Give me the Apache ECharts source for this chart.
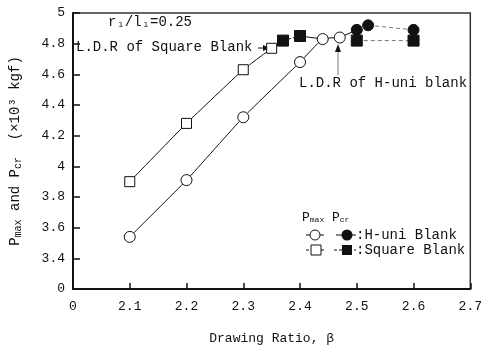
<!DOCTYPE html>
<html><head><meta charset="utf-8">
<script src="https://cdn.jsdelivr.net/npm/echarts@6/dist/echarts.min.js"></script>
<style>html,body{margin:0;padding:0;background:#fff}#c{width:485px;height:350px}</style>
</head><body><div id="c"></div>
<script>
// Data
var xTicks = [2.0, 2.1, 2.2, 2.3, 2.4, 2.5, 2.6, 2.7];
var yTicks = [3.2, 3.4, 3.6, 3.8, 4.0, 4.2, 4.4, 4.6, 4.8, 5.0];
var sqMaxX = [2.1, 2.2, 2.3, 2.35];
var sqMaxY = [3.90, 4.28, 4.63, 4.77];
var sqCrX = [2.37, 2.4, 2.5, 2.6];
var sqCrY = [4.82, 4.85, 4.82, 4.82];
var hMaxX = [2.1, 2.2, 2.3, 2.4, 2.44, 2.47];
var hMaxY = [3.54, 3.91, 4.32, 4.68, 4.83, 4.84];
var hCrX = [2.5, 2.52, 2.6];
var hCrY = [4.89, 4.92, 4.89];

function pts(xs, ys) { return xs.map(function (x, i) { return [x, ys[i]]; }); }
var sqMax = pts(sqMaxX, sqMaxY), sqCr = pts(sqCrX, sqCrY), hMax = pts(hMaxX, hMaxY), hCr = pts(hCrX, hCrY);

var FONT = '"Liberation Mono", monospace';
var INK = '#111';

function lineSeries(data, type, color, z) {
  return { type: 'line', data: data, symbol: 'none', silent: true, z: z || 1,
    lineStyle: { color: color || INK, width: 1, type: type || 'solid' } };
}
function markSeries(data, symbol, filled, size) {
  return { type: 'scatter', data: data, symbol: symbol, symbolSize: size, z: 5,
    itemStyle: { color: filled ? INK : '#fff', borderColor: INK, borderWidth: 1, opacity: 1 } };
}

var chart = echarts.init(document.getElementById('c'), null, { renderer: 'canvas' });
chart.setOption({
  animation: false,
  backgroundColor: '#fff',
  grid: { left: 71, right: 12, top: 13, bottom: 58, show: true, borderColor: '#333', borderWidth: 1.5 },
  xAxis: {
    type: 'value', min: xTicks[0], max: xTicks[xTicks.length - 1], interval: 0.1,
    name: 'Drawing Ratio, β', nameLocation: 'middle', nameGap: 43,
    nameTextStyle: { fontFamily: FONT, fontSize: 13, color: INK },
    axisLine: { lineStyle: { color: INK, width: 2 } },
    axisTick: { inside: true, length: 6, lineStyle: { color: INK, width: 1.5 } },
    axisLabel: { margin: 11, fontFamily: FONT, fontSize: 13, color: INK,
      formatter: function (v) { return Math.abs(v - xTicks[0]) < 1e-6 ? '0' : v.toFixed(1); } },
    splitLine: { show: false }
  },
  yAxis: {
    type: 'value', min: yTicks[0], max: yTicks[yTicks.length - 1], interval: 0.2,
    name: '{p|P}{s|max}{p| and P}{s|cr}{p|  (×10³ kgf)}', nameLocation: 'middle', nameGap: 50,
    nameTextStyle: { fontFamily: FONT, fontSize: 14, color: INK,
      rich: { p: { fontFamily: FONT, fontSize: 14, color: INK }, s: { fontFamily: FONT, fontSize: 10, color: INK, verticalAlign: 'bottom', padding: [6, 0, 0, 0] } } },
    axisLine: { lineStyle: { color: INK, width: 2 } },
    axisTick: { inside: true, length: 7, lineStyle: { color: INK, width: 1.5 } },
    axisLabel: { margin: 8, fontFamily: FONT, fontSize: 13, color: INK,
      formatter: function (v) {
        if (Math.abs(v - yTicks[0]) < 1e-6) return '0';
        var r = Math.round(v * 10) / 10;
        return (Math.abs(r - Math.round(r)) < 1e-6) ? String(Math.round(r)) : r.toFixed(1);
      } },
    splitLine: { show: false }
  },
  series: [
    Object.assign(lineSeries(sqMax), { smooth: 0.15 }),
    Object.assign(lineSeries(hMax), { smooth: 0.15 }),
    lineSeries([sqMax[sqMax.length - 1], sqCr[0], sqCr[1]], 'dashed'),
    lineSeries([sqCr[1], hMax[4]]),
    lineSeries([hMax[hMax.length - 1], hCr[0]]),
    lineSeries([hCr[1], hCr[2]], [4, 3], '#777'),
    lineSeries([sqCr[2], sqCr[3]], [4, 3], '#777'),
    markSeries(sqMax, 'rect', false, 10),
    markSeries(hMax, 'circle', false, 11),
    markSeries(sqCr, 'rect', true, 11),
    markSeries(hCr, 'circle', true, 11)
  ],
  graphic: [
    { type: 'text', left: 108, top: 15, style: { text: 'r₁/l₁=0.25', fontFamily: FONT, fontSize: 14, fill: INK } },
    { type: 'text', left: 76, top: 40, style: { text: 'L.D.R of Square Blank', fontFamily: FONT, fontSize: 14, fill: INK } },
    { type: 'line', shape: { x1: 258, y1: 48, x2: 265, y2: 48 }, style: { stroke: INK, lineWidth: 1 } },
    { type: 'polygon', shape: { points: [[270, 48], [263, 45], [263, 51]] }, style: { fill: INK } },
    { type: 'text', left: 299, top: 76, style: { text: 'L.D.R of H-uni blank', fontFamily: FONT, fontSize: 14, fill: INK } },
    { type: 'line', shape: { x1: 338, y1: 75, x2: 338, y2: 50 }, style: { stroke: '#777', lineWidth: 1 } },
    { type: 'polygon', shape: { points: [[338, 44], [335, 52], [341, 52]] }, style: { fill: INK } },
    // legend
    { type: 'text', left: 302, top: 211, style: { text: '{p|P}{s|max}{p| P}{s|cr}', rich: { p: { fontFamily: FONT, fontSize: 13, fill: INK }, s: { fontFamily: FONT, fontSize: 8, fill: INK, padding: [5, 0, 0, 0] } } } },
    { type: 'line', shape: { x1: 306, y1: 235, x2: 324, y2: 235 }, style: { stroke: INK, lineWidth: 1 } },
    { type: 'circle', shape: { cx: 315, cy: 235, r: 5 }, style: { fill: '#fff', stroke: INK, lineWidth: 1 } },
    { type: 'line', shape: { x1: 336, y1: 235, x2: 356, y2: 235 }, style: { stroke: INK, lineWidth: 1 } },
    { type: 'circle', shape: { cx: 347, cy: 235, r: 5.5 }, style: { fill: INK } },
    { type: 'text', left: 356, top: 228, style: { text: ':H-uni Blank', fontFamily: FONT, fontSize: 14, fill: INK } },
    { type: 'line', shape: { x1: 306, y1: 250, x2: 324, y2: 250 }, style: { stroke: INK, lineWidth: 1, lineDash: [3, 2] } },
    { type: 'rect', shape: { x: 311, y: 245, width: 10, height: 10 }, style: { fill: '#fff', stroke: INK, lineWidth: 1 } },
    { type: 'line', shape: { x1: 334, y1: 250, x2: 356, y2: 250 }, style: { stroke: INK, lineWidth: 1, lineDash: [3, 2] } },
    { type: 'rect', shape: { x: 342, y: 245, width: 10, height: 10 }, style: { fill: INK } },
    { type: 'text', left: 356, top: 243, style: { text: ':Square Blank', fontFamily: FONT, fontSize: 14, fill: INK } }
  ]
});
</script></body></html>
